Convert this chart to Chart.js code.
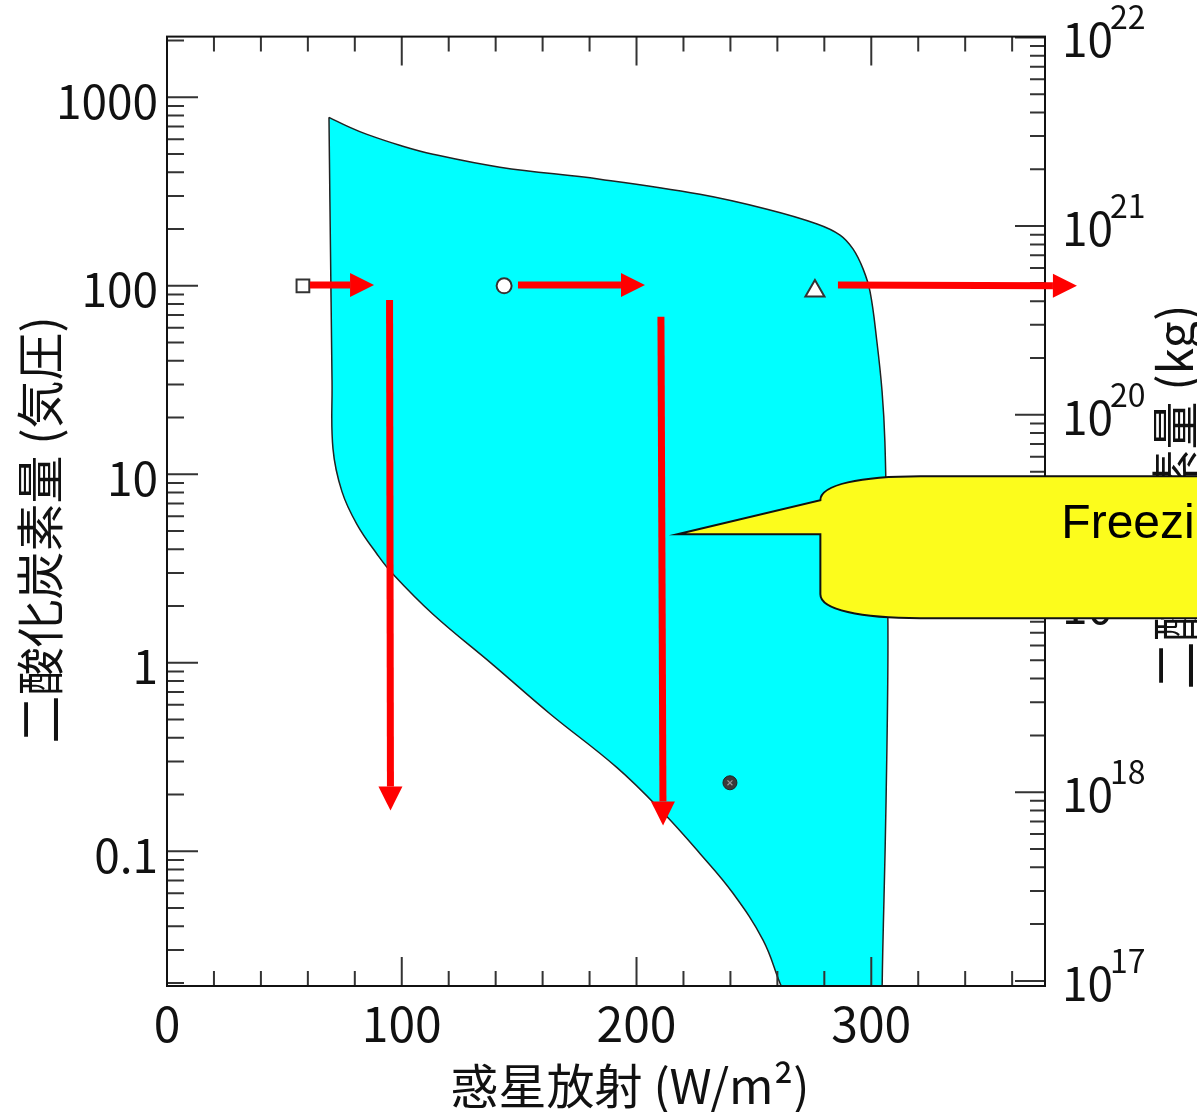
<!DOCTYPE html>
<html lang="ja">
<head>
<meta charset="utf-8">
<title>二酸化炭素量と惑星放射</title>
<script src="https://cdn.jsdelivr.net/npm/chart.js@4.4.1/dist/chart.umd.min.js"></script>
<style>
  html, body { margin: 0; padding: 0; background: #fff; }
  #wrap { width: 1197px; height: 1112px; position: relative; }
</style>
</head>
<body>
<div id="wrap"><canvas id="co2Chart"></canvas></div>
<script>
// 領域の境界 (惑星放射 W/m2, 二酸化炭素量 気圧) - 左上の角から時計回り
const regionX = [69.0, 77.9, 85.2, 99.1, 113.3, 141.8, 184.4, 227.0, 255.6, 276.9, 286.7, 292.2, 296.5, 299.5, 302.4, 304.6, 305.8, 306.7, 307.1, 306.3, 305.4, 304.9, 304.6, 304.4,
                 267.0, 264.1, 261.1, 253.9, 241.1, 227.0, 211.3, 191.7, 163.1, 138.9, 113.3, 96.3, 89.5, 80.9, 74.5, 70.7, 70.3, 69.9, 69.4, 69.0];
const regionY = [783, 693, 636, 557, 499, 426, 368, 306, 255, 213, 186, 157, 123, 92.8, 50.5, 27.5, 14.9, 3.91, 1.156, 0.186, 0.055, 0.03, 0.018, 0.01,
                 0.01, 0.0163, 0.02, 0.0338, 0.0599, 0.0974, 0.1606, 0.278, 0.537, 0.975, 1.81, 2.95, 3.77, 5.43, 8.12, 13.7, 31.0, 82.2, 278, 783];

// 記号 (四角, 丸, 三角, 黒丸)
const markerX = [57.9, 143.6, 276.0, 239.8];
const markerY = [100, 100, 94, 0.231];

// 赤い矢印 (始点 -> 終点)
const arrowX0 = [60.9, 94.8, 149.5, 210.4, 285.8];
const arrowY0 = [101, 84.2, 101, 68.5, 101];
const arrowX1 = [88.2, 95.2, 203.6, 211.3, 387.6];
const arrowY1 = [101, 0.1646, 101, 0.137, 100];

// 目盛り
const xTicks = [0, 100, 200, 300];
const yTicks = [0.1, 1, 10, 100, 1000];
const yTickLabels = ["0.1", "1", "10", "100", "1000"];
const massExp = [17, 18, 19, 20, 21, 22];

// 吹き出しの先端
const calloutTip = { x: 217.4, y: 4.81 };
const calloutText = "Freezing";

const JP = '"Noto Sans CJK JP", "Noto Sans", sans-serif';

function logTicks(scale) {
  const out = [];
  const lo = Math.floor(Math.log10(scale.min));
  const hi = Math.ceil(Math.log10(scale.max));
  for (let e = lo; e <= hi; e++) {
    for (let k = 1; k <= 9; k++) {
      const v = parseFloat((k * Math.pow(10, e)).toPrecision(3));
      if (v >= scale.min && v <= scale.max) out.push({ v, major: k === 1 });
    }
  }
  return out;
}

// 内向きの目盛りと枠
const frameTicks = {
  id: "frameTicks",
  afterDatasetsDraw(chart) {
    const { ctx, chartArea: a, scales } = chart;
    ctx.save();
    ctx.strokeStyle = "#333";
    ctx.lineWidth = 2;
    ctx.beginPath();
    for (let v = 20; v < scales.x.max; v += 20) {
      const px = scales.x.getPixelForValue(v);
      const len = v % 100 === 0 ? 29 : 15;
      ctx.moveTo(px, a.bottom);
      ctx.lineTo(px, a.bottom - len);
      ctx.moveTo(px, a.top);
      ctx.lineTo(px, a.top + len);
    }
    logTicks(scales.y).forEach((t) => {
      const py = scales.y.getPixelForValue(t.v);
      ctx.moveTo(a.left, py);
      ctx.lineTo(a.left + (t.major ? 31 : 17), py);
    });
    logTicks(scales.y2).forEach((t) => {
      const py = scales.y2.getPixelForValue(t.v);
      ctx.moveTo(a.right, py);
      ctx.lineTo(a.right - (t.major ? 30 : 15), py);
    });
    ctx.stroke();
    ctx.strokeStyle = "#111";
    ctx.strokeRect(a.left, a.top, a.right - a.left, a.bottom - a.top);
    ctx.restore();
  },
};

function drawArrow(ctx, x0, y0, x1, y1) {
  const ang = Math.atan2(y1 - y0, x1 - x0);
  const headLen = 24, headW = 12;
  const bx = x1 - headLen * Math.cos(ang);
  const by = y1 - headLen * Math.sin(ang);
  ctx.strokeStyle = "#ff0000";
  ctx.fillStyle = "#ff0000";
  ctx.lineWidth = 7;
  ctx.beginPath();
  ctx.moveTo(x0, y0);
  ctx.lineTo(bx, by);
  ctx.stroke();
  ctx.beginPath();
  ctx.moveTo(x1, y1);
  ctx.lineTo(bx + headW * Math.sin(ang), by - headW * Math.cos(ang));
  ctx.lineTo(bx - headW * Math.sin(ang), by + headW * Math.cos(ang));
  ctx.closePath();
  ctx.fill();
}

// 矢印, 軸タイトル, 右軸ラベル, 吹き出し
const overlay = {
  id: "overlay",
  afterDraw(chart) {
    const { ctx, scales } = chart;
    const { x, y, y2 } = scales;
    ctx.save();

    arrowX0.forEach((_, i) => {
      drawArrow(ctx,
        x.getPixelForValue(arrowX0[i]), y.getPixelForValue(arrowY0[i]),
        x.getPixelForValue(arrowX1[i]), y.getPixelForValue(arrowY1[i]));
    });

    // 右軸 10^n
    ctx.fillStyle = "#111";
    ctx.textAlign = "left";
    ctx.textBaseline = "alphabetic";
    massExp.forEach((e) => {
      const py = y2.getPixelForValue(Math.pow(10, e)) + 3;
      ctx.font = "46px " + JP;
      ctx.fillText("10", 1062, py + 17);
      const w = ctx.measureText("10").width;
      ctx.font = "32px " + JP;
      ctx.fillText(String(e), 1062 + w - 3, py - 11);
    });

    // 軸タイトル
    ctx.textAlign = "center";
    ctx.textBaseline = "middle";
    ctx.font = "48px " + JP;
    ctx.fillText("惑星放射 (W/m²)", 630, 1086);

    ctx.save();
    ctx.translate(40, 530);
    ctx.rotate(-Math.PI / 2);
    ctx.fillText("二酸化炭素量 (気圧)", 0, 0);
    ctx.restore();
    ctx.save();
    ctx.translate(1175, 497);
    ctx.rotate(-Math.PI / 2);
    ctx.fillText("二酸化炭素量 (kg)", 0, 0);
    ctx.restore();

    // 吹き出し
    const tx = x.getPixelForValue(calloutTip.x);
    const ty = y.getPixelForValue(calloutTip.y);
    const left = tx + 143, top = ty - 58, bottom = ty + 84, right = chart.width + 40;
    const rx = 100, ry = 24;
    ctx.beginPath();
    ctx.moveTo(tx, ty);
    ctx.lineTo(left, top + ry);
    ctx.bezierCurveTo(left, top + ry * 0.35, left + rx * 0.4, top, left + rx, top);
    ctx.lineTo(right, top);
    ctx.lineTo(right, bottom);
    ctx.lineTo(left + rx, bottom);
    ctx.bezierCurveTo(left + rx * 0.4, bottom, left, bottom - ry * 0.35, left, bottom - ry);
    ctx.lineTo(left, ty);
    ctx.closePath();
    ctx.fillStyle = "#fcfc1c";
    ctx.fill();
    ctx.strokeStyle = "#111";
    ctx.lineWidth = 2;
    ctx.stroke();

    ctx.fillStyle = "#000";
    ctx.textAlign = "left";
    ctx.textBaseline = "alphabetic";
    ctx.font = '48px "Liberation Sans", Arial, sans-serif';
    ctx.fillText(calloutText, tx + 384, ty + 4);

    ctx.restore();
  },
};

const pt = (i) => [{ x: markerX[i], y: markerY[i] }];

new Chart(document.getElementById("co2Chart"), {
  type: "scatter",
  data: {
    datasets: [
      { label: "square", data: pt(0), pointStyle: "rect", pointRadius: 9, backgroundColor: "#fff", borderColor: "#333", borderWidth: 2, order: 0 },
      { label: "circle", data: pt(1), pointStyle: "circle", pointRadius: 7.5, backgroundColor: "#fff", borderColor: "#333", borderWidth: 2, order: 0 },
      { label: "triangle", data: pt(2), pointStyle: "triangle", pointRadius: 11, backgroundColor: "#fff", borderColor: "#333", borderWidth: 2, order: 0 },
      { label: "dot-mark", data: pt(3), pointStyle: "crossRot", pointRadius: 3.5, borderColor: "#999", borderWidth: 1.2, order: 0 },
      { label: "dot", data: pt(3), pointStyle: "circle", pointRadius: 7, backgroundColor: "#3a3a3a", borderColor: "#222", borderWidth: 1, order: 0 },
      {
        label: "region",
        data: regionX.map((v, i) => ({ x: v, y: regionY[i] })),
        showLine: true,
        fill: "shape",
        backgroundColor: "#00ffff",
        borderColor: "#222",
        borderWidth: 1.5,
        pointRadius: 0,
        pointHoverRadius: 0,
        tension: 0.4,
        capBezierPoints: false,
        order: 1,
      },
    ],
  },
  options: {
    responsive: true,
    maintainAspectRatio: false,
    animation: false,
    events: [],
    layout: { padding: { top: 34, left: 0, right: 0, bottom: 0 } },
    plugins: { legend: { display: false }, tooltip: { enabled: false } },
    scales: {
      x: {
        type: "linear",
        position: "bottom",
        min: 0,
        max: 374,
        afterBuildTicks: (s) => { s.ticks = xTicks.map((v) => ({ value: v })); },
        afterFit: (s) => { s.height = 126; },
        ticks: { font: { family: JP, size: 48 }, color: "#111", padding: 9, autoSkip: false, maxRotation: 0 },
        grid: { display: false, drawTicks: false },
        border: { display: false },
      },
      y: {
        type: "logarithmic",
        position: "left",
        min: 0.0193,
        max: 2100,
        afterBuildTicks: (s) => { s.ticks = yTicks.map((v) => ({ value: v })); },
        afterFit: (s) => { s.width = 167; },
        ticks: {
          callback: (v) => { const i = yTicks.indexOf(v); return i >= 0 ? yTickLabels[i] : ""; },
          font: { family: JP, size: 46 },
          color: "#111",
          padding: 9,
          labelOffset: 4,
          autoSkip: false,
        },
        grid: { display: false, drawTicks: false },
        border: { display: false },
      },
      y2: {
        type: "logarithmic",
        position: "right",
        min: 9.4e16,
        max: 1.01e22,
        afterFit: (s) => { s.width = 152; },
        ticks: { display: false },
        grid: { display: false, drawTicks: false },
        border: { display: false },
      },
    },
  },
  plugins: [frameTicks, overlay],
});
</script>
</body>
</html>
